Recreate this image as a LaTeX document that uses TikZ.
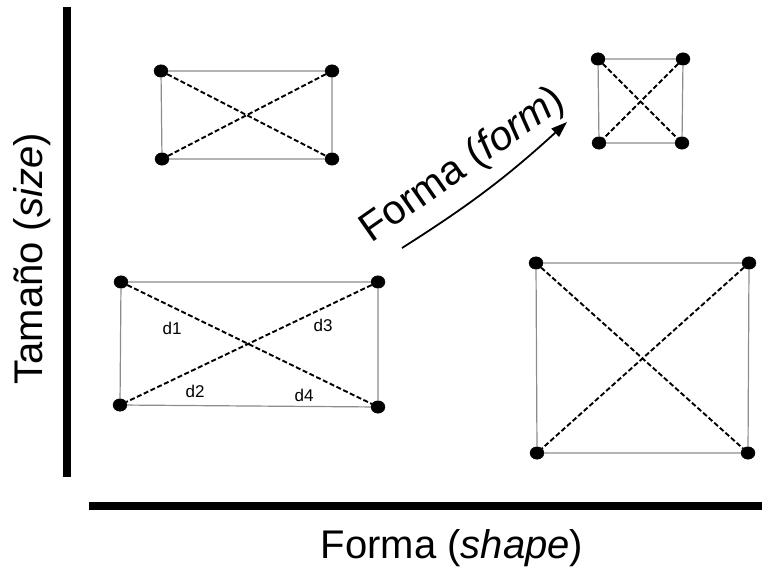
\documentclass[tikz,border=0pt]{standalone}
\usepackage{fontspec}
\setmainfont{Liberation Sans}
\usetikzlibrary{arrows.meta,shapes.geometric}
\definecolor{ShpGray}{RGB}{140,140,140}
\tikzset{
  shp/dot/.style={
    ellipse,
    draw=black,
    fill=black,
    inner sep=0pt,
    minimum width=14pt,
    minimum height=12.5pt
  },
  shp/side/.style={draw=ShpGray, line width=1.2pt},
  shp/diag/.style={draw=black, line width=1.9pt, dash pattern=on 5pt off 2.5pt},
  shp/axis/.style={draw=black, line width=7.5pt},
  shp/arrow/.style={-{Triangle[length=16pt,width=11pt]}, line width=1.8pt, draw=black},
  shp/title/.style={font=\fontsize{40}{48}\selectfont, text=black, inner sep=0pt},
  shp/tinylabel/.style={font=\fontsize{17}{20}\selectfont, text=black, inner sep=0pt}
}

\begin{document}
\begin{tikzpicture}[x=1pt,y=1pt]
  \useasboundingbox (0,0) rectangle (762,568);

  \coordinate (ytop) at (67,561);
  \coordinate (ybot) at (67,91);
  \coordinate (xleft) at (89,62);
  \coordinate (xright) at (762,62);
  \draw[shp/axis] (ybot) -- (ytop);
  \draw[shp/axis] (xleft) -- (xright);
  \node[shp/title,anchor=base] (shapelabel) at (452,10) {Forma (\textit{shape})};
  \node[shp/title,anchor=base,rotate=90] (sizelabel) at (42,309) {Tamaño (\textit{size})};

  \node[shp/dot] (a-tl) at (161,497) {};
  \node[shp/dot] (a-tr) at (332,497) {};
  \node[shp/dot] (a-bl) at (162,409) {};
  \node[shp/dot] (a-br) at (332,409) {};
  \draw[shp/side] (a-tl) -- (a-tr) -- (a-br) -- (a-bl) -- (a-tl);
  \draw[shp/diag] (a-tl) -- (a-br) (a-tr) -- (a-bl);

  \node[shp/dot] (b-tl) at (598,509) {};
  \node[shp/dot] (b-tr) at (683,509) {};
  \node[shp/dot] (b-bl) at (599,425) {};
  \node[shp/dot] (b-br) at (682,425) {};
  \draw[shp/side] (b-tl) -- (b-tr) -- (b-br) -- (b-bl) -- (b-tl);
  \draw[shp/diag] (b-tl) -- (b-br) (b-tr) -- (b-bl);

  \node[shp/dot] (c-tl) at (121,286) {};
  \node[shp/dot] (c-tr) at (378,286) {};
  \node[shp/dot] (c-bl) at (120,163) {};
  \node[shp/dot] (c-br) at (378,161) {};
  \draw[shp/side] (c-tl) -- (c-tr) -- (c-br) -- (c-bl) -- (c-tl);
  \draw[shp/diag] (c-tl) -- (c-br) (c-tr) -- (c-bl);
  \node[shp/tinylabel] (d1) at (172,240) {d1};
  \node[shp/tinylabel] (d2) at (195,177) {d2};
  \node[shp/tinylabel] (d3) at (323,243) {d3};
  \node[shp/tinylabel] (d4) at (304,173) {d4};

  \node[shp/dot] (e-tl) at (536,305) {};
  \node[shp/dot] (e-tr) at (749,305) {};
  \node[shp/dot] (e-bl) at (537,115) {};
  \node[shp/dot] (e-br) at (748,115) {};
  \draw[shp/side] (e-tl) -- (e-tr) -- (e-br) -- (e-bl) -- (e-tl);
  \draw[shp/diag] (e-tl) -- (e-br) (e-tr) -- (e-bl);

  \coordinate (formstart) at (402,320);
  \coordinate (formend) at (567,446);
  \draw[shp/arrow] (formstart) to[bend right=5] (formend);
  \node[shp/title,font=\fontsize{41}{48}\selectfont,rotate=35] (formlabel) at (463,402) {Forma (\textit{form})};
\end{tikzpicture}
\end{document}
